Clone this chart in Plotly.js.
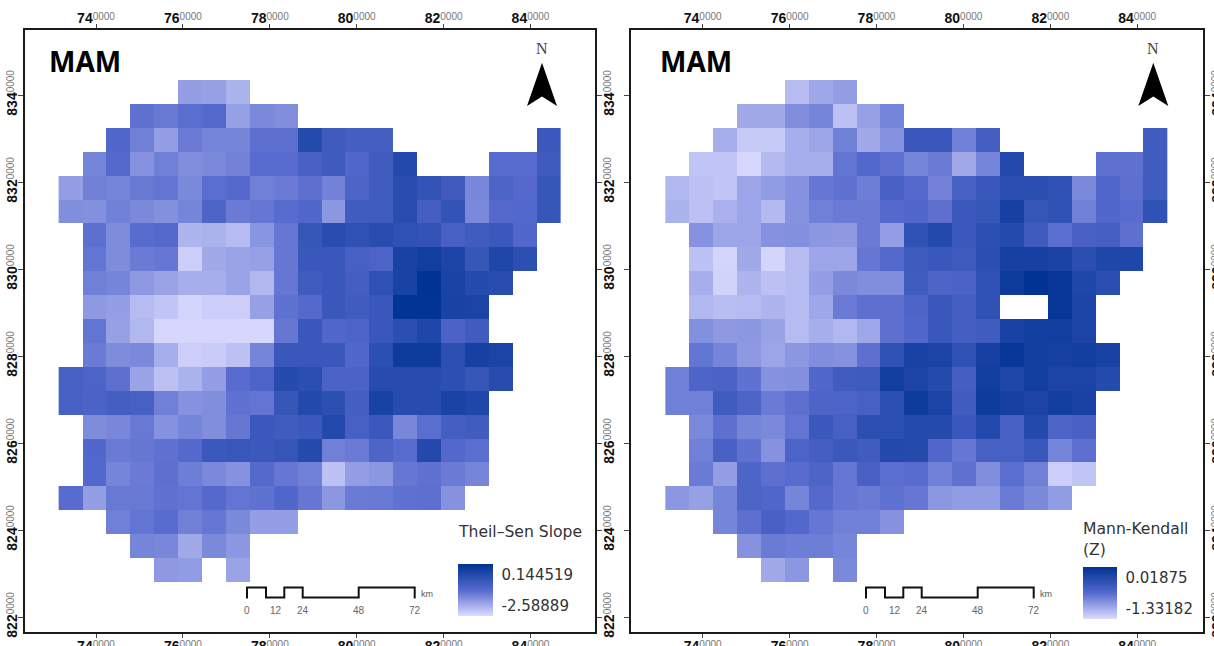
<!DOCTYPE html>
<html><head><meta charset="utf-8">
<script src="https://cdn.plot.ly/plotly-3.0.1.min.js"></script>
<style>html,body{margin:0;padding:0;background:#fff;overflow:hidden}</style>
</head><body><div id="chart" style="width:1214px;height:646px"></div>
<script>
const _ = null;
// Cell values, as percent of each legend's range; rows run north to south.
const slopeRows = [
[_,_,_,_,_,27,26,18,_,_,_,_,_,_,_,_,_,_,_,_,_],
[_,_,_,46,43,48,50,26,36,34,_,_,_,_,_,_,_,_,_,_,_],
[_,_,52,40,27,42,38,38,47,47,78,63,60,60,_,_,_,_,_,_,65],
[_,38,50,32,40,34,36,39,49,49,57,63,52,62,80,_,_,_,49,49,63],
[27,40,38,43,45,36,48,50,40,42,47,39,54,62,76,70,63,37,54,50,68],
[34,33,40,36,33,38,54,42,44,49,52,30,62,62,76,60,70,36,50,51,68],
[_,47,35,49,50,17,18,14,31,44,68,76,72,76,72,70,58,62,65,52,_],
[_,45,35,42,44,6,22,25,26,44,66,66,58,55,86,90,83,68,82,74,_],
[_,40,38,29,25,20,20,25,16,44,62,66,60,72,86,100,85,78,76,_,_],
[_,29,27,14,10,3,6,6,26,46,50,66,62,66,99,99,86,84,_,_,_],
[_,45,26,16,2,2,2,2,2,44,66,52,55,66,75,82,56,62,_,_,_],
[_,42,35,36,20,6,7,12,38,66,66,66,52,74,92,92,74,87,84,_,_],
[58,55,47,25,12,18,27,49,55,78,75,56,56,77,77,77,74,68,77,_,_],
[58,56,60,58,40,32,34,46,45,68,80,74,60,86,77,77,85,82,_,_,_],
[_,35,37,43,32,38,34,44,65,62,65,80,58,65,37,48,60,62,_,_,_],
[_,52,42,44,46,50,65,67,65,68,78,40,42,54,49,80,51,48,_,_,_],
[_,51,38,42,47,41,36,32,50,44,40,12,27,30,44,46,42,38,_,_,_],
[49,27,43,43,46,45,50,45,46,52,44,30,42,43,46,47,32,_,_,_,_],
[_,_,40,45,49,40,44,36,27,27,_,_,_,_,_,_,_,_,_,_,_],
[_,_,_,38,37,22,36,30,_,_,_,_,_,_,_,_,_,_,_,_,_],
[_,_,_,_,29,28,_,25,_,_,_,_,_,_,_,_,_,_,_,_,_]
];
const mkRows = [
[_,_,_,_,_,14,23,27,_,_,_,_,_,_,_,_,_,_,_,_,_],
[_,_,_,22,22,34,38,12,26,38,_,_,_,_,_,_,_,_,_,_,_],
[_,_,20,8,8,20,24,40,22,32,66,66,40,60,_,_,_,_,_,_,62],
[_,10,10,2,15,20,20,45,51,46,38,42,22,38,80,_,_,_,46,46,62],
[16,12,10,24,28,32,44,46,41,57,50,39,58,66,75,75,71,36,52,47,62],
[18,12,19,24,15,32,40,42,42,50,52,47,65,68,87,68,71,40,52,49,71],
[_,32,24,24,32,33,30,29,42,27,71,80,65,74,78,63,48,57,59,47,_],
[_,12,3,22,3,14,24,24,44,50,64,66,64,75,87,87,85,75,82,82,_],
[_,20,4,17,12,14,27,36,34,34,62,54,56,72,93,100,95,82,75,_,_],
[_,16,13,14,17,14,23,42,47,47,54,66,60,72,_,_,96,84,_,_,_],
[_,33,29,30,25,14,20,16,23,47,52,66,60,62,86,90,90,84,_,_,_],
[_,45,38,29,24,30,34,32,47,71,86,84,72,87,96,90,87,90,86,_,_],
[40,54,56,46,32,33,52,62,64,90,84,78,60,90,82,90,84,84,78,_,_],
[40,40,62,54,42,47,54,55,58,74,92,84,62,92,87,84,90,86,_,_,_],
[_,36,47,38,36,45,65,58,74,74,78,78,66,80,58,80,54,57,_,_,_],
[_,40,57,46,32,55,60,65,62,80,78,52,44,58,58,66,38,47,_,_,_],
[_,42,27,54,47,49,54,44,57,48,49,40,46,34,48,40,6,10,_,_,_],
[30,26,38,54,52,38,50,44,42,46,44,30,28,28,42,36,28,_,_,_,_],
[_,_,38,47,57,51,44,40,40,32,_,_,_,_,_,_,_,_,_,_,_],
[_,_,_,32,42,41,41,38,_,_,_,_,_,_,_,_,_,_,_,_,_],
[_,_,_,_,22,30,_,36,_,_,_,_,_,_,_,_,_,_,_,_,_]
];
const slopeMin = -2.58889, slopeMax = 0.144519;
const mkMin = -1.33182, mkMax = 0.01875;
const cellSize = 5500, gridWest = 731400, gridNorth = 8343450;
const xTicks = [740000,760000,780000,800000,820000,840000];
const yTicks = [8220000,8240000,8260000,8280000,8300000,8320000,8340000];
const scaleStepsPx = [0,19,37.3,55.7,111.7,167.7];
const scaleLabels = ['0','12','24','48','72'];
const scaleLabelPx = [0,28.5,56,111.7,167.7];

const W = 1214, H = 646;
const colors = [[0,'rgb(220,220,255)'],[0.5,'rgb(85,105,205)'],[1,'rgb(0,51,148)']];
const toReal = (rows,lo,hi)=>rows.map(r=>r.map(v=>v===null?null:lo+v/100*(hi-lo)));
const colCenters = Array.from({length:21},(_v,i)=>gridWest+cellSize*(i+0.5));
const rowCenters = Array.from({length:21},(_v,i)=>gridNorth-cellSize*(i+0.5));
const px = x=>x/W, py = y=>1-y/H;
const tickText = (v)=>{const s=String(v);const head=s.slice(0,s.length-4);
  return '<b>'+head+'</b><span style="color:#777;font-size:10px;baseline-shift:3px">0000</span>';};

const panels = [
 {name:'slope',L:24.5,R:595,titleX:48,data:slopeRows,lo:slopeMin,hi:slopeMax,x:'x',y:'y',x2:'x2',y2:'y2',
  cbx:458,cbw:35.3,cbt:563.3,cbb:615.7,hiPx:575,loPx:606,hiT:'0.144519',loT:'-2.58889'},
 {name:'mk',L:631.3,R:1202.7,titleX:658.5,data:mkRows,lo:mkMin,hi:mkMax,x:'x3',y:'y3',x2:'x4',y2:'y4',
  cbx:1083.3,cbw:34.4,cbt:566.7,cbb:618.3,hiPx:577.7,loPx:608.7,hiT:'0.01875',loT:'-1.33182'}
];
const frameTop=30,frameBot=632;
const xRangeOf = p=>{const x74=p.name==='slope'?96:702.7;const s=43.45/10000;return [740000+(p.L-x74)/s,740000+(p.R-x74)/s];};
const yRange = [8340000-(frameBot-95)/(43.5/10000),8340000+(95-frameTop)/(43.5/10000)];
const tf={family:'Liberation Sans, Arial, sans-serif',size:14,color:'#111'};
const layout={width:W,height:H,margin:{l:0,r:0,t:0,b:0,autoexpand:false},paper_bgcolor:'#fff',plot_bgcolor:'#fff',showlegend:false,shapes:[],annotations:[]};
const traces=[];
const ax=(extra)=>Object.assign({showgrid:false,zeroline:false,showline:true,linecolor:'#1a1a1a',linewidth:2,ticks:'outside',
  tickcolor:'#444',tickwidth:1,ticklen:5,tickfont:tf,fixedrange:true},extra);
const note=(x,y,text,font,anchor)=>layout.annotations.push({xref:'paper',yref:'paper',x:px(x),y:py(y),xanchor:anchor||'center',yanchor:'middle',showarrow:false,borderpad:0,text,font});
panels.forEach((p,i)=>{
  const dom=[px(p.L),px(p.R)], ydom=[py(frameBot),py(frameTop)], xr=xRangeOf(p);
  const k=i===0?'':'3', k2=i===0?'2':'4';
  const xt={tickmode:'array',tickvals:xTicks,ticktext:xTicks.map(v=>tickText(v)),range:xr,domain:dom};
  const yt={tickmode:'array',tickvals:yTicks,ticktext:yTicks.map(v=>tickText(v)),range:yRange,domain:ydom,tickangle:-90};
  layout['xaxis'+k]=ax(Object.assign({},xt,{side:'bottom',anchor:'y'+k,ticklen:4,ticklabelstandoff:-4}));
  layout['yaxis'+k]=ax(Object.assign({},yt,{side:'left',anchor:'x'+k,showticklabels:i===0,ticklabelstandoff:-5}));
  layout['xaxis'+k2]=ax(Object.assign({},xt,{side:'top',anchor:'y'+k2,overlaying:'x'+k,ticklen:4,ticklabelstandoff:-5}));
  layout['yaxis'+k2]=ax(Object.assign({},yt,{side:'right',anchor:'x'+k2,overlaying:'y'+k,ticklabelstandoff:-5}));
  const span=p.hi-p.lo, h=p.cbb-p.cbt;
  const valAt=y=>p.lo+(p.cbb-y)/h*span;
  traces.push({type:'heatmap',z:toReal(p.data,p.lo,p.hi),x:colCenters,y:rowCenters,xaxis:p.x,yaxis:p.y,zmin:p.lo,zmax:p.hi,
    colorscale:colors,hoverongaps:false,
    colorbar:{thickness:p.cbw,thicknessmode:'pixels',len:h,lenmode:'pixels',x:px(p.cbx),xanchor:'left',y:py((p.cbt+p.cbb)/2),yanchor:'middle',
      xpad:0,ypad:0,outlinewidth:0,borderwidth:0,tickmode:'array',tickvals:[valAt(p.hiPx),valAt(p.loPx)],ticktext:[p.hiT,p.loT],
      ticks:'outside',ticklen:6,tickcolor:'rgba(0,0,0,0)',tickfont:{family:'DejaVu Sans, sans-serif',size:15,color:'#333'}}});
  traces.push({type:'scatter',x:[],y:[],mode:'none',xaxis:p.x2,yaxis:p.y2,hoverinfo:'skip'});
  note(p.titleX,61,'<b>MAM</b>',{family:'Noto Sans, sans-serif',size:28,color:'#000'},'left');
  const ncx=i===0?542:1153.3, half=15;
  layout.shapes.push({type:'path',xref:'paper',yref:'paper',fillcolor:'#000',line:{width:0},
    path:`M ${px(ncx)} ${py(62.7)} L ${px(ncx+half)} ${py(106)} L ${px(ncx)} ${py(96.5)} L ${px(ncx-half)} ${py(106)} Z`});
  note(ncx,49,'N',{family:'Liberation Serif, serif',size:16,color:'#444'});
  const sx=i===0?247:866;
  let d=`M ${px(sx)} ${py(598.5)}`;
  scaleStepsPx.forEach((s,j)=>{
    const yy=j%2===0?587.5:597.5;
    d+=` L ${px(sx+s)} ${py(yy)}`;
    if(j<scaleStepsPx.length-1) d+=` L ${px(sx+scaleStepsPx[j+1])} ${py(yy)}`;
  });
  d+=` L ${px(sx+scaleStepsPx[5])} ${py(598.5)}`;
  layout.shapes.push({type:'path',xref:'paper',yref:'paper',line:{color:'#111',width:2},path:d});
  scaleLabels.forEach((t,j)=>note(sx+scaleLabelPx[j],610,t,{family:'Liberation Sans, Arial, sans-serif',size:10,color:'#666'}));
  note(sx+180.3,594,'km',{family:'Liberation Sans, Arial, sans-serif',size:9,color:'#555'});
});
const legendFont={family:'DejaVu Sans, sans-serif',size:15.6,color:'#333'};
note(457,531.5,'Theil–Sen Slope',legendFont,'left');
note(1082,529,'Mann-Kendall',legendFont,'left');
note(1082,550,'(Z)',legendFont,'left');
Plotly.newPlot('chart',traces,layout,{displayModeBar:false,staticPlot:true});
</script></body></html>
